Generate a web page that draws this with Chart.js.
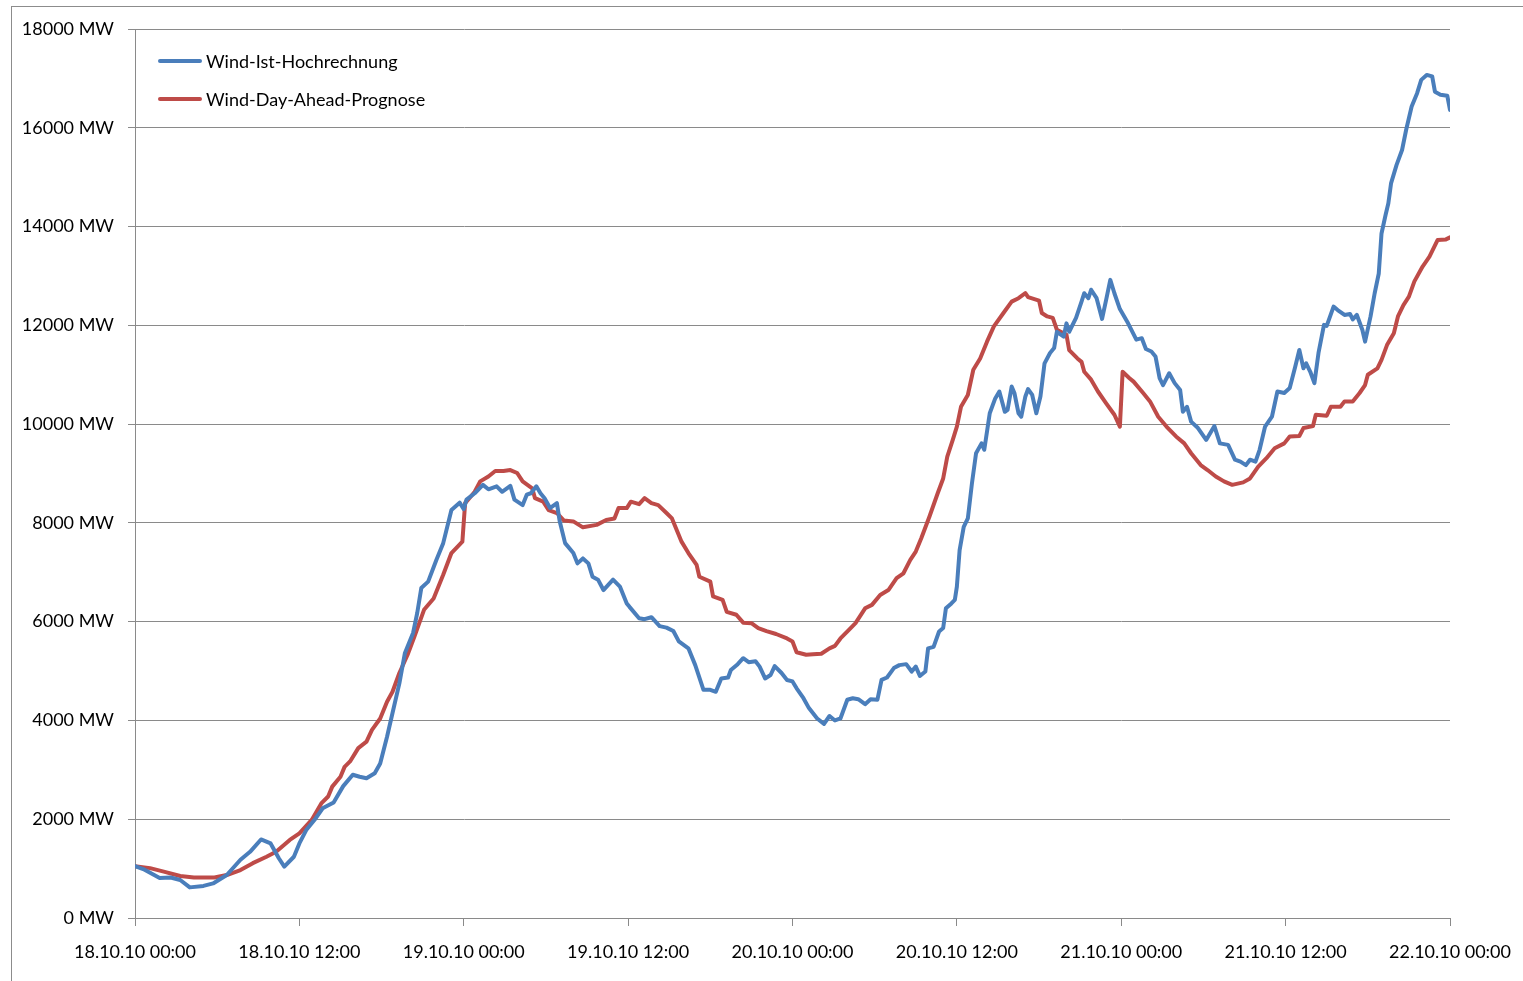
<!DOCTYPE html>
<html>
<head>
<meta charset="utf-8">
<script src="https://cdn.jsdelivr.net/npm/chart.js@4.4.1/dist/chart.umd.min.js"></script>
<style>
  html, body { margin: 0; padding: 0; background: #fff; overflow: hidden; }
  #frame { position: absolute; left: 11px; top: 6px; width: 1600px; height: 1100px; border: 1px solid #8c8c8c; }
  #chart { position: absolute; left: 0; top: 0; }
</style>
</head>
<body>
<div id="frame"></div>
<canvas id="chart" width="1523" height="981"></canvas>
<script>
// hours since 18.10.10 00:00
const seriesNames = ['Wind-Ist-Hochrechnung', 'Wind-Day-Ahead-Prognose'];
const tickLabels = ['18.10.10 00:00', '18.10.10 12:00', '19.10.10 00:00', '19.10.10 12:00',
  '20.10.10 00:00', '20.10.10 12:00', '21.10.10 00:00', '21.10.10 12:00', '22.10.10 00:00'];

const istHours = [0, 0.6, 1.8, 2.6, 3.3, 4.0, 5.0, 5.7, 6.7, 7.7, 8.4, 9.2, 9.9, 10.5, 10.9, 11.6, 12.0, 12.5,
  13.2, 13.7, 14.5, 15.2, 15.9, 16.4, 16.9, 17.5, 17.9, 18.4, 18.8, 19.3, 19.7, 20.3, 20.6, 20.9, 21.4, 22.0,
  22.5, 23.1, 23.7, 24.0, 24.2, 24.8, 25.4, 25.8, 26.4, 26.8, 27.4, 27.7, 28.3, 28.6, 28.9, 29.3, 29.6, 29.9,
  30.3, 30.8, 31.0, 31.4, 32.0, 32.3, 32.7, 33.1, 33.4, 33.8, 34.2, 34.9, 35.4, 35.9, 36.1, 36.8, 37.2, 37.7,
  38.3, 38.8, 39.3, 39.7, 40.4, 40.9, 41.5, 42.0, 42.4, 42.8, 43.3, 43.5, 44.0, 44.4, 44.8, 45.3, 45.6, 46.0,
  46.4, 46.7, 47.2, 47.6, 48.0, 48.3, 48.8, 49.2, 49.8, 50.3, 50.7, 51.1, 51.5, 52.0, 52.4, 52.8, 53.3, 53.7,
  54.2, 54.5, 54.9, 55.4, 55.8, 56.3, 56.7, 57.0, 57.3, 57.7, 57.9, 58.3, 58.7, 59.0, 59.2, 59.6, 59.85, 60.0,
  60.2, 60.5, 60.8, 61.1, 61.4, 61.8, 62.0, 62.4, 62.8, 63.1, 63.5, 63.7, 64.0, 64.2, 64.5, 64.7, 65.0, 65.2,
  65.5, 65.8, 66.1, 66.4, 66.8, 67.1, 67.3, 67.8, 68.0, 68.2, 68.7, 69.1, 69.3, 69.6, 69.8, 70.2, 70.6, 70.9,
  71.2, 71.5, 71.9, 72.5, 73.1, 73.5, 73.8, 74.2, 74.5, 74.8, 75.05, 75.5, 75.9, 76.3, 76.5, 76.8, 77.1, 77.6,
  78.2, 78.8, 79.2, 79.8, 80.3, 80.7, 81.1, 81.4, 81.8, 82.1, 82.5, 83.0, 83.4, 83.9, 84.3, 84.7, 85.0, 85.3,
  85.5, 85.8, 86.1, 86.4, 86.8, 87.0, 87.5, 87.8, 88.3, 88.7, 88.9, 89.2, 89.6, 89.8, 90.2, 90.5, 90.8, 91.0,
  91.3, 91.5, 91.7, 92.1, 92.5, 92.8, 93.2, 93.6, 93.9, 94.3, 94.7, 94.9, 95.3, 95.8, 96.0];
const istMW = [1050, 990, 810, 820, 770, 620, 650, 700, 870, 1180, 1340, 1590, 1510, 1210, 1040, 1240, 1510, 1780,
  2020, 2220, 2340, 2670, 2900, 2860, 2830, 2930, 3130, 3670, 4150, 4750, 5360, 5770, 6170, 6680, 6810, 7250,
  7590, 8260, 8410, 8280, 8470, 8600, 8770, 8680, 8740, 8630, 8750, 8470, 8360, 8570, 8600, 8740, 8600, 8500,
  8300, 8400, 8040, 7590, 7390, 7180, 7280, 7180, 6910, 6850, 6640, 6850, 6710, 6370, 6300, 6070, 6050, 6090,
  5910, 5880, 5810, 5600, 5460, 5120, 4620, 4620, 4580, 4850, 4870, 5020, 5140, 5260, 5180, 5200, 5090, 4850,
  4920, 5100, 4960, 4820, 4790, 4650, 4450, 4250, 4040, 3930, 4090, 4000, 4040, 4420, 4450, 4430, 4330, 4430,
  4420, 4820, 4870, 5060, 5120, 5140, 4990, 5090, 4900, 4990, 5460, 5490, 5800, 5870, 6270, 6370, 6440, 6710,
  7450, 7920, 8090, 8800, 9410, 9610, 9480, 10220, 10520, 10660, 10250, 10290, 10760, 10630, 10220, 10150, 10560, 10710,
  10590, 10220, 10560, 11230, 11440, 11540, 11870, 11770, 12040, 11870, 12150, 12480, 12650, 12550, 12720, 12550, 12130, 12520,
  12920, 12650, 12330, 12040, 11710, 11740, 11520, 11470, 11370, 10930, 10790, 11030, 10830, 10690, 10250, 10350, 10050, 9920,
  9680, 9960, 9610, 9580, 9280, 9240, 9170, 9280, 9240, 9480, 9950, 10150, 10660, 10630, 10730, 11160, 11500, 11130,
  11230, 11060, 10830, 11440, 12010, 11990, 12380, 12310, 12210, 12230, 12120, 12210, 11910, 11670, 12180, 12650, 13050, 13860,
  14240, 14470, 14880, 15250, 15550, 15960, 16430, 16700, 16970, 17070, 17040, 16730, 16670, 16650, 16360];

const progHours = [0, 1.1, 2.1, 3.3, 4.3, 5.8, 6.7, 7.7, 8.6, 9.6, 10.3, 11.3, 12.0, 12.9, 13.6, 14.1, 14.4, 15.0,
  15.3, 15.7, 16.3, 16.9, 17.3, 17.9, 18.4, 18.8, 19.3, 19.9, 20.4, 21.1, 21.8, 22.5, 23.1, 23.9, 24.1, 24.5,
  24.8, 25.2, 25.8, 26.3, 26.9, 27.4, 27.9, 28.3, 29.0, 29.2, 29.8, 30.2, 30.8, 31.3, 32.0, 32.7, 33.7, 34.4,
  35.0, 35.3, 35.9, 36.2, 36.8, 37.2, 37.7, 38.2, 38.8, 39.2, 39.9, 40.4, 41.0, 41.2, 42.0, 42.2, 42.9, 43.2,
  43.9, 44.4, 45.0, 45.5, 46.1, 46.8, 47.6, 48.0, 48.3, 49.0, 49.5, 50.1, 50.7, 51.1, 51.5, 52.1, 52.6, 53.3,
  53.8, 54.4, 55.0, 55.6, 56.1, 56.6, 57.0, 57.4, 58.0, 58.6, 59.0, 59.3, 59.7, 60.0, 60.3, 60.8, 61.2, 61.7,
  62.2, 62.7, 63.4, 64.0, 64.5, 65.0, 65.2, 66.0, 66.2, 66.6, 67.0, 67.3, 68.0, 68.2, 68.8, 69.1, 69.3, 69.8,
  70.3, 70.9, 71.5, 71.9, 72.1, 72.6, 72.9, 73.6, 74.1, 74.7, 75.3, 76.0, 76.6, 77.1, 77.8, 78.3, 78.9, 79.5,
  80.1, 80.9, 81.4, 82.0, 82.6, 83.2, 83.9, 84.3, 85.0, 85.3, 86.0, 86.2, 87.0, 87.3, 88.0, 88.3, 88.9, 89.4,
  89.8, 90.0, 90.7, 91.0, 91.4, 91.9, 92.2, 92.6, 93.0, 93.4, 94.0, 94.5, 95.1, 95.7, 96.0];
const progMW = [1050, 1010, 940, 850, 820, 820, 870, 970, 1110, 1240, 1340, 1580, 1715, 1985, 2320, 2460, 2660, 2860,
  3060, 3170, 3440, 3570, 3810, 4040, 4380, 4580, 4960, 5330, 5700, 6240, 6470, 6950, 7390, 7620, 8400, 8530,
  8630, 8840, 8940, 9050, 9050, 9070, 9010, 8840, 8700, 8500, 8430, 8260, 8200, 8050, 8030, 7910, 7960, 8060,
  8090, 8300, 8300, 8430, 8380, 8500, 8400, 8360, 8200, 8090, 7620, 7390, 7150, 6910, 6810, 6510, 6440, 6200,
  6140, 5980, 5970, 5870, 5810, 5750, 5660, 5600, 5380, 5330, 5340, 5350, 5460, 5510, 5660, 5830, 5970, 6270,
  6340, 6540, 6640, 6880, 6980, 7250, 7420, 7690, 8130, 8600, 8900, 9340, 9680, 9950, 10350, 10590, 11100, 11330,
  11670, 11980, 12250, 12480, 12550, 12650, 12570, 12500, 12250, 12180, 12150, 11910, 11810, 11500, 11330, 11260, 11060, 10900,
  10660, 10420, 10190, 9950, 11060, 10930, 10860, 10630, 10460, 10150, 9950, 9750, 9610, 9410, 9170, 9070, 8940, 8840,
  8770, 8820, 8900, 9140, 9310, 9510, 9610, 9750, 9760, 9920, 9960, 10190, 10170, 10350, 10350, 10460, 10460, 10630,
  10790, 11000, 11130, 11300, 11600, 11840, 12180, 12410, 12580, 12890, 13190, 13390, 13730, 13740, 13780];

const toPoints = (hours, values) => hours.map((h, i) => ({ x: h, y: values[i] }));

const FONT = 'Lato, "Open Sans", sans-serif';
const GRID = '#8a8a8a';

// legend drawn inside the plot area, stacked like the original
const insideLegend = {
  id: 'insideLegend',
  afterDraw(chart) {
    const { ctx, chartArea } = chart;
    ctx.save();
    ctx.font = '18px ' + FONT;
    ctx.textBaseline = 'middle';
    chart.data.datasets.forEach((ds, i) => {
      const y = chartArea.top + 32 + i * 38;
      const x = chartArea.left + 25;
      ctx.strokeStyle = ds.borderColor;
      ctx.lineWidth = 4;
      ctx.lineCap = 'round';
      ctx.beginPath();
      ctx.moveTo(x, y);
      ctx.lineTo(x + 40, y);
      ctx.stroke();
      ctx.fillStyle = '#000';
      ctx.fillText(ds.label, x + 46, y + 1);
    });
    ctx.restore();
  }
};

new Chart(document.getElementById('chart'), {
  type: 'line',
  data: {
    datasets: [
      {
        label: seriesNames[0],
        data: toPoints(istHours, istMW),
        borderColor: '#4a7ebb',
        borderWidth: 4,
        pointRadius: 0,
        borderJoinStyle: 'round',
        borderCapStyle: 'round',
      },
      {
        label: seriesNames[1],
        data: toPoints(progHours, progMW),
        borderColor: '#be4b48',
        borderWidth: 4,
        pointRadius: 0,
        borderJoinStyle: 'round',
        borderCapStyle: 'round',
      },
    ],
  },
  options: {
    responsive: false,
    animation: false,
    devicePixelRatio: 1,
    layout: { padding: { left: 0, top: 29, right: 73, bottom: 0 } },
    plugins: { legend: { display: false }, tooltip: { enabled: false } },
    scales: {
      x: {
        type: 'linear',
        min: 0,
        max: 96,
        afterBuildTicks: (scale) => {
          scale.ticks = tickLabels.map((_, i) => ({ value: i * 12 }));
        },
        afterFit: (scale) => {
          scale.height = 63;
          scale.paddingLeft = 0;
          scale.paddingRight = 0;
        },
        ticks: {
          autoSkip: false,
          maxRotation: 0,
          padding: 15,
          color: '#000',
          font: { family: FONT, size: 18 },
          callback: (v) => tickLabels[Math.round(v / 12)],
        },
        grid: { drawOnChartArea: false, color: GRID, tickLength: 8 },
        border: { color: GRID, width: 1 },
      },
      y: {
        min: 0,
        max: 18000,
        afterFit: (scale) => { scale.width = 135; },
        ticks: {
          stepSize: 2000,
          padding: 14,
          color: '#000',
          font: { family: FONT, size: 18 },
          callback: (v) => v + ' MW',
        },
        grid: { color: GRID, tickLength: 7 },
        border: { color: GRID, width: 1 },
      },
    },
  },
  plugins: [insideLegend],
});
</script>
</body>
</html>
